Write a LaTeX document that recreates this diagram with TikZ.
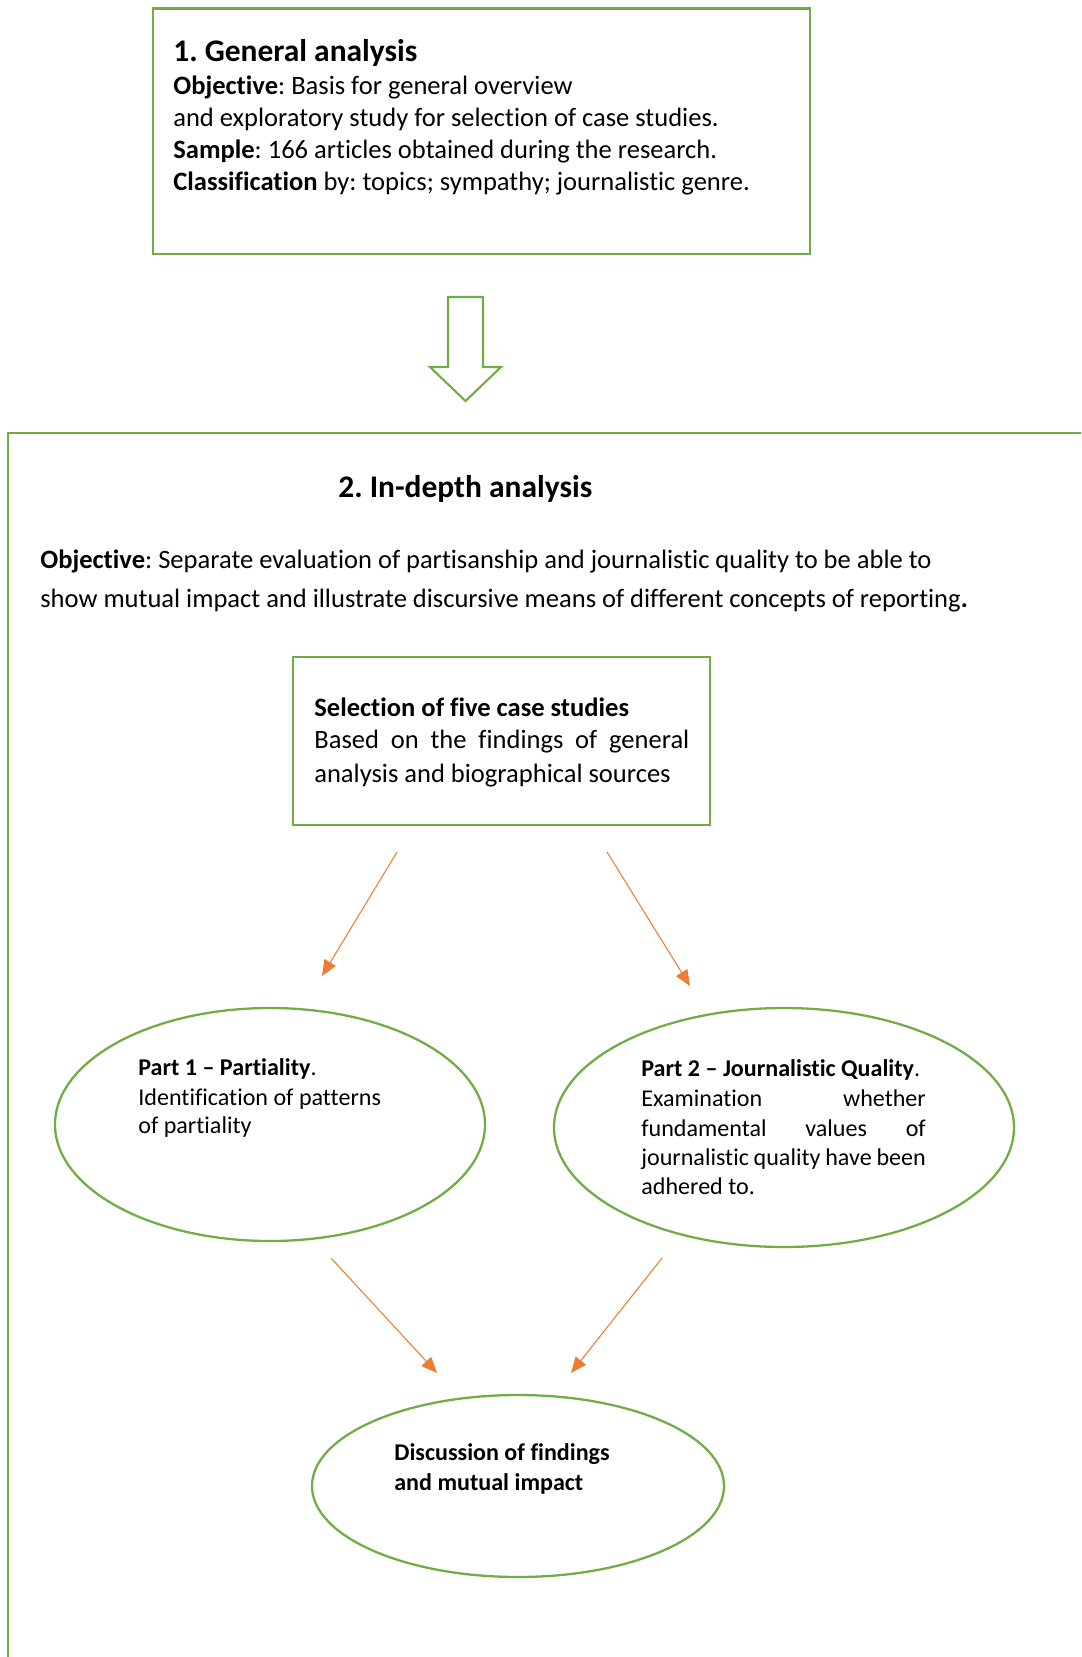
\documentclass[tikz,border=0pt]{standalone}
\usepackage{fontspec}
\setmainfont{Carlito}[Ligatures={TeX,NoCommon}]
\frenchspacing
\usetikzlibrary{arrows.meta,shapes.geometric}
\definecolor{boxgreen}{HTML}{70AD47}
\definecolor{arrorange}{HTML}{ED7D31}
\tikzset{
	frame/.style={draw=boxgreen, line width=1.3pt},
	oval/.style={frame, ellipse, inner sep=0pt},
	txt/.style={anchor=base west, inner sep=0pt, font=\fontsize{15.1}{18}\selectfont},
	smalltxt/.style={anchor=base west, inner sep=0pt, font=\fontsize{13.7}{16}\selectfont},
	headtxt/.style={anchor=base west, inner sep=0pt, font=\fontsize{17.9}{21}\selectfont\bfseries},
	arr/.style={draw=arrorange, line width=0.6pt, -{Triangle[length=9pt,width=7.5pt]}}
}
\begin{document}
\begin{tikzpicture}
		\useasboundingbox (0,0) rectangle (21.62,-33.14);
		\clip (0,0) rectangle (21.62,-33.14);
		% general analysis
		\node[frame, minimum width=13.14cm, minimum height=4.91cm] (gen) at (9.63,-2.625) {};
		\node[headtxt] (gentitle) at (3.46,-1.234) {1. General analysis};
		\node[txt] (genobj) at (3.46,-1.90) {\textbf{Objective}: Basis for general overview};
		\node[txt] (genobjb) at (3.46,-2.534) {and exploratory study for selection of case studies.};
		\node[txt] (gensample) at (3.46,-3.16) {\textbf{Sample}: 166 articles obtained during the research.};
		\node[txt] (genclass) at (3.46,-3.80) {\textbf{Classification} by: topics; sympathy; journalistic genre.};
		% hollow block arrow
		\draw[frame, line width=1.2pt, line join=miter] (8.96,-5.94) -- (9.66,-5.94) -- (9.66,-7.34) -- (10.02,-7.34)
			-- (9.31,-8.02) -- (8.60,-7.34) -- (8.96,-7.34) -- cycle;
		% in-depth analysis
		\draw[frame] (0.166,-34) -- (0.166,-8.66) -- (23,-8.66);
		\node[headtxt] (deeptitle) at (6.76,-9.94) {2. In-depth analysis};
		\node[txt] (deepobj) at (0.80,-11.36) {\textbf{Objective}: Separate evaluation of partisanship and journalistic quality to be able to};
		\node[txt] (deepobjb) at (0.80,-12.14) {show mutual impact and illustrate discursive means of different concepts of reporting\textbf{.}};
		\node[frame, minimum width=8.34cm, minimum height=3.36cm] (sel) at (10.03,-14.82) {};
		\node[txt] (seltitle) at (6.28,-14.32) {\textbf{Selection of five case studies}};
		\node[txt] (selb) at (6.28,-14.96) {\makebox[7.5cm][s]{Based on the findings of general}};
		\node[txt] (selc) at (6.28,-15.64) {analysis and biographical sources};
		% two parts
		\node[oval, minimum width=8.60cm, minimum height=4.66cm] (part1) at (5.40,-22.49) {};
		\node[smalltxt] (p1title) at (2.76,-21.50) {\textbf{Part 1 -- Partiality}.};
		\node[smalltxt] (p1b) at (2.76,-22.10) {Identification of patterns};
		\node[smalltxt] (p1c) at (2.76,-22.66) {of partiality};
		\node[oval, minimum width=9.20cm, minimum height=4.78cm] (part2) at (15.68,-22.55) {};
		\node[smalltxt] (p2title) at (12.82,-21.534) {\textbf{Part 2 -- Journalistic Quality}.};
		\node[smalltxt] (p2b) at (12.82,-22.134) {\makebox[5.69cm][s]{Examination whether}};
		\node[smalltxt] (p2c) at (12.82,-22.734) {\makebox[5.69cm][s]{fundamental values of}};
		\node[smalltxt] (p2d) at (12.82,-23.30) {\makebox[5.69cm][s]{journalistic quality have been}};
		\node[smalltxt] (p2e) at (12.82,-23.88) {adhered to.};
		% discussion
		\node[oval, minimum width=8.24cm, minimum height=3.64cm] (disc) at (10.36,-29.72) {};
		\node[smalltxt] (disca) at (7.88,-29.21) {\textbf{Discussion of findings}};
		\node[smalltxt] (discb) at (7.88,-29.80) {\textbf{and mutual impact}};
		% arrows
		\coordinate (a1s) at (7.94,-17.04);
		\coordinate (a1e) at (6.44,-19.52);
		\coordinate (a2s) at (12.14,-17.04);
		\coordinate (a2e) at (13.80,-19.72);
		\coordinate (a3s) at (6.62,-25.16);
		\coordinate (a3e) at (8.74,-27.46);
		\coordinate (a4s) at (13.24,-25.16);
		\coordinate (a4e) at (11.42,-27.46);
		\draw[arr] (a1s) -- (a1e);
		\draw[arr] (a2s) -- (a2e);
		\draw[arr] (a3s) -- (a3e);
		\draw[arr] (a4s) -- (a4e);
	\end{tikzpicture}
\end{document}
